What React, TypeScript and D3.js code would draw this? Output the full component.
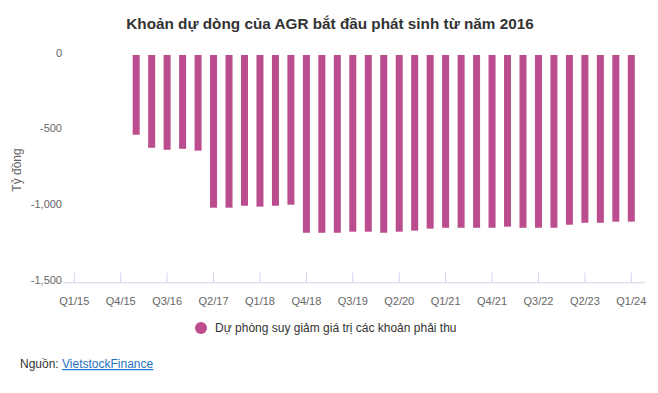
import React from "react";
import * as d3 from "d3";

const quarters: string[] = [
  "Q1/15", "Q2/15", "Q3/15", "Q4/15",
  "Q1/16", "Q2/16", "Q3/16", "Q4/16",
  "Q1/17", "Q2/17", "Q3/17", "Q4/17",
  "Q1/18", "Q2/18", "Q3/18", "Q4/18",
  "Q1/19", "Q2/19", "Q3/19", "Q4/19",
  "Q1/20", "Q2/20", "Q3/20", "Q4/20",
  "Q1/21", "Q2/21", "Q3/21", "Q4/21",
  "Q1/22", "Q2/22", "Q3/22", "Q4/22",
  "Q1/23", "Q2/23", "Q3/23", "Q4/23",
  "Q1/24",
];

const provision: (number | null)[] = [
  null, null, null, null,
  -525, -611, -624, -618,
  -630, -1006, -1006, -993,
  -999, -993, -986, -1171,
  -1171, -1171, -1164, -1164,
  -1171, -1164, -1157, -1144,
  -1138, -1138, -1138, -1138,
  -1131, -1138, -1138, -1138,
  -1118, -1105, -1105, -1098,
  -1098,
];

const xTickLabels: string[] = [
  "Q1/15", "Q4/15", "Q3/16", "Q2/17", "Q1/18", "Q4/18", "Q3/19",
  "Q2/20", "Q1/21", "Q4/21", "Q3/22", "Q2/23", "Q1/24",
];
const yTicks: number[] = [0, -500, -1000, -1500];

const seriesName = "Dự phòng suy giảm giá trị các khoản phải thu";
const title = "Khoản dự dòng của AGR bắt đầu phát sinh từ năm 2016";
const barColor = "#bb4d8e";
const axisColor = "#ccd6eb";
const font = "'Liberation Sans', Arial, Helvetica, sans-serif";

export default function App() {
  const W = 658;
  const H = 393;
  const x = d3.scalePoint<string>().domain(quarters).range([74.3, 631.3]);
  const y = d3.scaleLinear().domain([-1500, 0]).range([282.7, 55]);
  const barW = 7;
  const fmt = (v: number) => d3.format(",")(v).replace("\u2212", "-");

  return (
    <svg
      width={W}
      height={H}
      style={{ position: "absolute", left: 0, top: 0, background: "#fff" }}
      fontFamily={font}
    >
      <rect x={0} y={0} width={W} height={H} fill="#fff" />
      <text x={330} y={29} textAnchor="middle" fontSize={15.3} fontWeight="bold" fill="#333">
        {title}
      </text>

      {/* y axis labels */}
      {yTicks.map((t) => (
        <text key={t} x={62} y={y(t) + 1.5} textAnchor="end" fontSize={11} fill="#666">
          {fmt(t)}
        </text>
      ))}
      <text
        transform={`translate(21,170) rotate(-90)`}
        textAnchor="middle"
        fontSize={12}
        fill="#666"
      >
        Tỷ đồng
      </text>

      {/* bars */}
      {quarters.map((q, i) => {
        const v = provision[i];
        if (v === null) return null;
        const cx = x(q) as number;
        return (
          <rect
            key={q}
            x={cx - barW / 2}
            y={y(0)}
            width={barW}
            height={y(v) - y(0)}
            fill={barColor}
          />
        );
      })}

      {/* x axis */}
      <line x1={63} x2={645} y1={y(-1500)} y2={y(-1500)} stroke={axisColor} strokeWidth={1} />
      {xTickLabels.map((q) => {
        const cx = x(q) as number;
        return (
          <g key={q}>
            <line x1={cx} x2={cx} y1={y(-1500) - 10} y2={y(-1500)} stroke={axisColor} strokeWidth={1} />
            <text x={cx} y={305} textAnchor="middle" fontSize={11} fill="#666">
              {q}
            </text>
          </g>
        );
      })}

      {/* legend */}
      <circle cx={201} cy={328} r={6} fill={barColor} />
      <text x={215} y={332} fontSize={12} fill="#333">
        {seriesName}
      </text>

      {/* source */}
      <text x={20} y={368} fontSize={12} fill="#333">
        Nguồn:{" "}
        <tspan fill="#1f73c1" textDecoration="underline" style={{ textDecoration: "underline" }}>
          VietstockFinance
        </tspan>
      </text>
    </svg>
  );
}
